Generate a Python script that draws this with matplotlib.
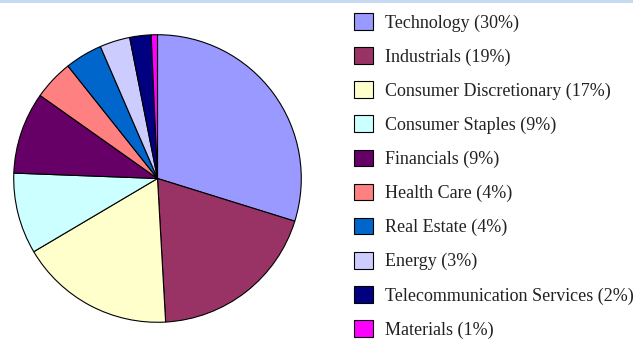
import matplotlib.pyplot as plt
from matplotlib.patches import Rectangle

sectors = [
    "Technology", "Industrials", "Consumer Discretionary", "Consumer Staples",
    "Financials", "Health Care", "Real Estate", "Energy",
    "Telecommunication Services", "Materials",
]
weights = [29.8, 19.3, 17.4, 9.1, 9.2, 4.5, 4.2, 3.4, 2.4, 0.7]
colors = [
    "#9999FF", "#993366", "#FFFFCC", "#CCFFFF", "#660066",
    "#FF8080", "#0066CC", "#CCCCFF", "#000080", "#FF00FF",
]

labels = [f"{name} ({w:.0f}%)" for name, w in zip(sectors, weights)]

W, H = 633, 342
fig = plt.figure(figsize=(W / 100, H / 100), dpi=100)
fig.patch.set_facecolor("white")

# thin header band across the top
fig.patches.append(Rectangle((0, 1 - 3 / H), 1, 3 / H, transform=fig.transFigure,
                             facecolor="#C6D9F1", edgecolor="none"))

cx, cy, r = 157.5, 178.5, 144.5
ax = fig.add_axes([(cx - r) / W, (H - cy - r) / H, 2 * r / W, 2 * r / H])
wedges, _ = ax.pie(
    weights, colors=colors, startangle=90, counterclock=False, radius=1,
    wedgeprops=dict(edgecolor="black", linewidth=0.8),
)
ax.set_xlim(-1.005, 1.005)
ax.set_ylim(-1.005, 1.005)
ax.set_axis_off()

leg = fig.legend(
    wedges, labels, loc="upper left", bbox_to_anchor=(354 / W, 1 - 13 / H),
    frameon=False, borderpad=0, borderaxespad=0,
    handlelength=1.05, handleheight=1.05, handletextpad=0.65, labelspacing=0.86,
    prop={"family": "Liberation Serif", "size": 13},
)
for h in leg.legend_handles:
    h.set_edgecolor("black")
    h.set_linewidth(0.8)
for t in leg.get_texts():
    t.set_color("#222222")

fig.savefig("out.png", dpi=100)
